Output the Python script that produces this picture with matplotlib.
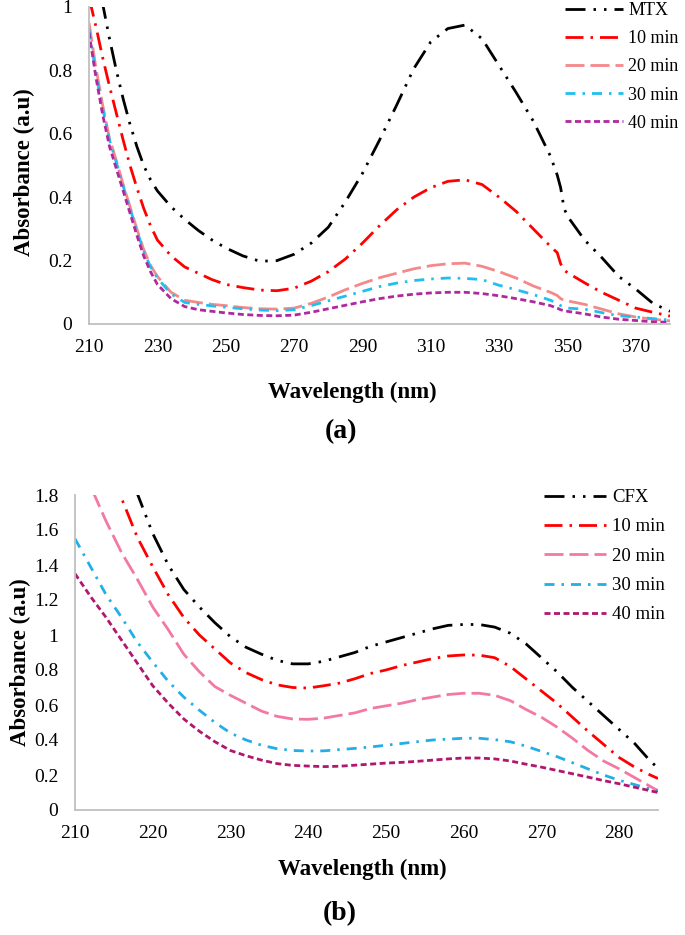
import numpy as np
import matplotlib
matplotlib.use("Agg")
import matplotlib.pyplot as plt
from matplotlib.ticker import FuncFormatter

plt.rcParams['font.family'] = ['Liberation Serif', 'DejaVu Serif']

# ---- panel (a): MTX ----
wl_a = [210, 212, 214, 216, 218, 220, 222, 224, 226, 228, 230, 234, 238, 242,
        246, 250, 255, 260, 265, 270, 275, 280, 285, 290, 295, 300, 305, 310,
        315, 320, 325, 330, 335, 340, 345, 347, 348, 349, 350, 355, 360, 365,
        370, 375, 380]
mtx = [1.25, 1.13, 1.01, 0.90, 0.80, 0.71, 0.63, 0.56, 0.50, 0.455, 0.42, 0.37,
       0.33, 0.295, 0.265, 0.24, 0.215, 0.198, 0.20, 0.22, 0.255, 0.305, 0.385,
       0.475, 0.58, 0.69, 0.805, 0.89, 0.932, 0.943, 0.90, 0.815, 0.73, 0.64,
       0.53, 0.47, 0.43, 0.365, 0.34, 0.265, 0.21, 0.15, 0.11, 0.065, 0.04]
a_10 = [1.03, 0.94, 0.84, 0.75, 0.665, 0.58, 0.50, 0.43, 0.365, 0.31, 0.265,
        0.215, 0.18, 0.16, 0.14, 0.125, 0.115, 0.107, 0.105, 0.113, 0.135, 0.165,
        0.205, 0.255, 0.31, 0.36, 0.40, 0.43, 0.45, 0.455, 0.44, 0.40, 0.355,
        0.30, 0.245, 0.225, 0.19, 0.17, 0.162, 0.13, 0.10, 0.075, 0.05, 0.037,
        0.025]
a_20 = [0.95, 0.81, 0.69, 0.585, 0.515, 0.44, 0.37, 0.30, 0.235, 0.185, 0.15,
        0.10, 0.075, 0.068, 0.062, 0.058, 0.052, 0.048, 0.047, 0.05, 0.065, 0.085,
        0.108, 0.128, 0.146, 0.16, 0.174, 0.184, 0.19, 0.192, 0.182, 0.165, 0.145,
        0.12, 0.10, 0.09, 0.08, 0.075, 0.073, 0.062, 0.047, 0.032, 0.022, 0.015,
        0.01]
a_30 = [0.93, 0.79, 0.68, 0.58, 0.51, 0.435, 0.365, 0.295, 0.23, 0.18, 0.145,
        0.095, 0.068, 0.062, 0.057, 0.053, 0.048, 0.044, 0.042, 0.045, 0.058,
        0.073, 0.088, 0.103, 0.118, 0.129, 0.137, 0.142, 0.145, 0.144, 0.14,
        0.122, 0.108, 0.093, 0.075, 0.065, 0.058, 0.053, 0.05, 0.047, 0.036,
        0.026, 0.022, 0.017, 0.012]
a_40 = [0.92, 0.78, 0.66, 0.56, 0.49, 0.42, 0.35, 0.28, 0.215, 0.165, 0.125,
        0.08, 0.055, 0.045, 0.04, 0.035, 0.03, 0.027, 0.026, 0.028, 0.037, 0.048,
        0.059, 0.07, 0.08, 0.088, 0.094, 0.098, 0.10, 0.10, 0.096, 0.089, 0.08,
        0.07, 0.058, 0.05, 0.045, 0.042, 0.04, 0.032, 0.022, 0.015, 0.011, 0.007,
        0.005]

# ---- panel (b): CFX ----
wl_b = [210, 212, 214, 216, 218, 220, 222, 224, 226, 228, 230, 232, 234, 236,
        238, 240, 242, 244, 246, 248, 250, 252, 254, 256, 258, 260, 262, 264,
        266, 268, 270, 272, 274, 276, 278, 280, 282, 284, 285]
cfx = [2.9, 2.6, 2.30, 2.05, 1.81, 1.58, 1.40, 1.26, 1.16, 1.07, 0.99, 0.93,
       0.89, 0.855, 0.835, 0.835, 0.85, 0.875, 0.90, 0.935, 0.96, 0.985, 1.01,
       1.035, 1.055, 1.06, 1.06, 1.045, 1.01, 0.95, 0.87, 0.79, 0.70, 0.62,
       0.54, 0.46, 0.38, 0.28, 0.24]
b_10 = [2.45, 2.2, 2.0, 1.78, 1.56, 1.39, 1.23, 1.10, 1.00, 0.92, 0.84, 0.785,
        0.745, 0.715, 0.70, 0.697, 0.71, 0.725, 0.75, 0.78, 0.80, 0.825, 0.845,
        0.865, 0.88, 0.886, 0.885, 0.87, 0.82, 0.75, 0.68, 0.61, 0.53, 0.45,
        0.375, 0.30, 0.245, 0.20, 0.18]
b_20 = [2.1, 1.85, 1.65, 1.47, 1.32, 1.16, 1.03, 0.89, 0.79, 0.705, 0.655, 0.61,
        0.565, 0.535, 0.52, 0.518, 0.525, 0.54, 0.555, 0.58, 0.595, 0.61, 0.63,
        0.645, 0.66, 0.667, 0.667, 0.655, 0.625, 0.575, 0.53, 0.474, 0.41, 0.34,
        0.28, 0.235, 0.185, 0.135, 0.11]
b_30 = [1.55, 1.39, 1.23, 1.10, 0.96, 0.845, 0.735, 0.645, 0.57, 0.50, 0.44,
        0.40, 0.37, 0.35, 0.34, 0.337, 0.338, 0.345, 0.352, 0.36, 0.37, 0.38,
        0.39, 0.40, 0.405, 0.41, 0.41, 0.402, 0.39, 0.365, 0.335, 0.305, 0.27,
        0.235, 0.20, 0.17, 0.145, 0.12, 0.11]
b_40 = [1.35, 1.22, 1.10, 0.97, 0.84, 0.71, 0.61, 0.52, 0.45, 0.39, 0.34, 0.31,
        0.285, 0.265, 0.255, 0.251, 0.248, 0.25, 0.256, 0.262, 0.268, 0.272,
        0.278, 0.285, 0.292, 0.297, 0.297, 0.292, 0.28, 0.262, 0.245, 0.226,
        0.207, 0.188, 0.168, 0.15, 0.13, 0.11, 0.10]

labels_a = ['MTX', '10 min', '20 min', '30 min', '40 min']
labels_b = ['CFX', '10 min', '20 min', '30 min', '40 min']
colors_a = ['#000000', '#FF0000', '#F4888A', '#1FC0F0', '#B0289E']
colors_b = ['#000000', '#FF0000', '#F279A6', '#22AEE6', '#B0176E']

LW = 2.0
px = LW * 100 / 72.0
# dash patterns given in pixels, converted to linewidth units
dash_px = [
    (20, 8, 2.5, 8, 2.5, 8),   # long dash dot dot
    (18, 7, 2.5, 7),           # long dash dot
    (19, 6),                   # long dash
    (10, 7, 2.5, 7),           # dash dot
    (6, 3.5),                  # short dash
]
dashes = [tuple(d / px for d in p) for p in dash_px]

AX_COLOR = '#BFBFBF'


def style_axes(ax, xticks, yticks):
    for s in ['top', 'right']:
        ax.spines[s].set_visible(False)
    for s in ['left', 'bottom']:
        ax.spines[s].set_color(AX_COLOR)
        ax.spines[s].set_linewidth(1.3)
    ax.set_xticks(xticks)
    ax.set_yticks(yticks)
    ax.yaxis.set_major_formatter(FuncFormatter(lambda v, p: '%g' % round(v, 2)))
    ax.tick_params(axis='y', length=0, pad=12, labelsize=14)
    ax.tick_params(axis='x', length=0, pad=11, labelsize=14)


fig = plt.figure(figsize=(6.85, 9.35), dpi=100)

ax1 = fig.add_axes([89 / 685, 1 - 324 / 935, 581 / 685, 317 / 935])
series_a = [mtx, a_10, a_20, a_30, a_40]
for y, lab, c, d in zip(series_a, labels_a, colors_a, dashes):
    ax1.plot(wl_a, y, color=c, lw=LW, dashes=d, label=lab)
ax1.set_xlim(210, 380)
ax1.set_ylim(0, 1)
style_axes(ax1, np.arange(210, 371, 20), np.arange(0, 1.01, 0.2))
ax1.legend(loc='upper left', bbox_to_anchor=(565 / 685, 1 - 2 / 935),
           bbox_transform=fig.transFigure, frameon=False, fontsize=13,
           handlelength=3.2, handletextpad=0.3, labelspacing=0.62,
           borderpad=0, borderaxespad=0)

ax2 = fig.add_axes([75 / 685, 1 - 810 / 935, 583 / 685, 315 / 935])
series_b = [cfx, b_10, b_20, b_30, b_40]
for y, lab, c, d in zip(series_b, labels_b, colors_b, dashes):
    ax2.plot(wl_b, y, color=c, lw=LW, dashes=d, label=lab)
ax2.set_xlim(210, 285)
ax2.set_ylim(0, 1.8)
style_axes(ax2, np.arange(210, 281, 10), np.arange(0, 1.81, 0.2))
ax2.legend(loc='upper left', bbox_to_anchor=(544 / 685, 1 - 489 / 935),
           bbox_transform=fig.transFigure, frameon=False, fontsize=13.5,
           handlelength=3.3, handletextpad=0.35, labelspacing=0.65,
           borderpad=0, borderaxespad=0)

bold = dict(fontweight='bold', fontsize=16.5, ha='center', va='center')
fig.text(352 / 685, 1 - 392 / 935, 'Wavelength (nm)', **bold)
fig.text(24 / 685, 1 - 172 / 935, 'Absorbance (a.u)', rotation=90, **bold)
fig.text(341 / 685, 1 - 432 / 935, '(a)', fontweight='bold', fontsize=20,
         ha='center', va='center')

fig.text(362 / 685, 1 - 869 / 935, 'Wavelength (nm)', **bold)
fig.text(20 / 685, 1 - 662 / 935, 'Absorbance (a.u)', rotation=90, **bold)
fig.text(340 / 685, 1 - 914 / 935, '(b)', fontweight='bold', fontsize=20,
         ha='center', va='center')

fig.savefig('out.png', dpi=100)
